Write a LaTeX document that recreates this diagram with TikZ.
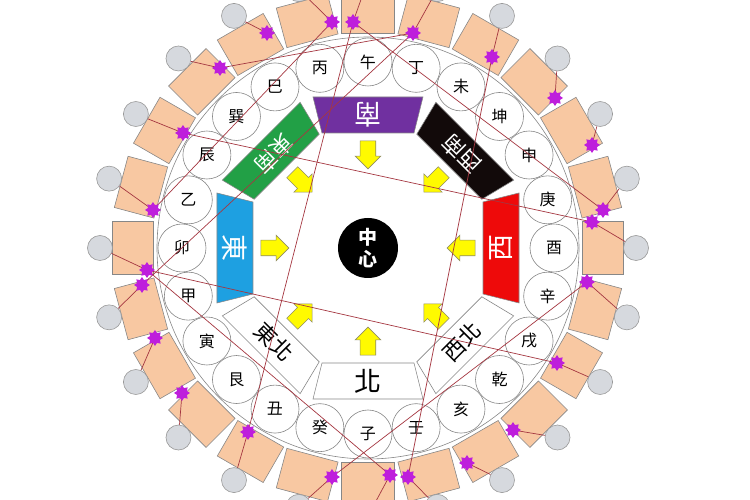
\documentclass[tikz,border=0pt]{standalone}
\usepackage{fontspec}
\newfontfamily\cjk{Noto Sans CJK TC}
\usetikzlibrary{shapes.geometric,shapes.arrows}

\definecolor{boxorange}{RGB}{248,200,162}
\definecolor{ringgray}{RGB}{135,135,135}
\definecolor{dotgray}{RGB}{214,217,222}
\definecolor{starpurple}{RGB}{190,30,220}
\definecolor{linered}{RGB}{165,55,65}
\definecolor{nanpurple}{RGB}{112,48,160}
\definecolor{xinanblack}{RGB}{18,10,10}
\definecolor{xired}{RGB}{238,10,10}
\definecolor{dongblue}{RGB}{30,160,225}
\definecolor{dnangreen}{RGB}{34,160,70}
\definecolor{arrowyellow}{RGB}{255,250,0}

\tikzset{
  mountain/.style={circle, draw=ringgray, fill=white, line width=0.6pt, minimum size=48pt, inner sep=0pt, font=\cjk\fontsize{16}{16}\selectfont},
  ringbox/.style={rectangle, draw=ringgray, fill=boxorange, line width=0.6pt, minimum width=53pt, minimum height=41pt},
  graydot/.style={circle, draw=gray!80, fill=dotgray, line width=0.6pt, minimum size=25pt, inner sep=0pt},
  starmark/.style={star, star points=8, star point ratio=1.5, fill=starpurple, minimum size=16pt, inner sep=0pt},
  feiarrow/.style={single arrow, draw=gray!70!olive, fill=arrowyellow, line width=0.6pt, minimum height=28pt, inner sep=7.5pt, single arrow head extend=5pt},
  dirlabel/.style={inner sep=0pt},
  redline/.style={draw=linered, line width=0.7pt}
}

\begin{document}
\begin{tikzpicture}[x=1pt,y=1pt]
\useasboundingbox (-368,-252) rectangle (382,248);
\clip (-368,-252) rectangle (382,248);
\draw[ringgray, line width=0.6pt] (0,0) circle (211);
\foreach \i in {0,...,23}{
  \node[ringbox, rotate=15*\i-90] (b\i) at ({15*\i}:235) {};
  \node[graydot] (g\i) at ({15*\i}:268) {};
}
\foreach \lab [count=\i from 0] in {子,癸,丑,艮,寅,甲,卯,乙,辰,巽,巳,丙,午,丁,未,坤,申,庚,酉,辛,戌,乾,亥,壬}
  \node[mountain] (m\i) at ({-90-15*\i}:186) {\lab};
\foreach \a/\fc/\tc/\fs/\lab in {-90/white/black/27/北, -45/white/black/22/西北, 0/xired/white/27/西, 45/xinanblack/white/22/西南, 90/nanpurple/white/27/南, 135/dnangreen/white/22/東南, 180/dongblue/white/27/東, -135/white/black/22/東北}{
  \begin{scope}[rotate=\a+90]
    \draw[ringgray, fill=\fc, line width=0.6pt] (-46,-115) -- (46,-115) -- (55,-151) -- (-55,-151) -- cycle;
  \end{scope}
  \node[dirlabel, text=\tc, rotate=\a+90, font=\cjk\fontsize{\fs}{\fs}\selectfont] (dir\a) at (\a:133) {\lab};
  \node[feiarrow, rotate=\a+180] (arr\a) at (\a:97) {};
}
\node[circle, fill=black, minimum size=60pt, inner sep=0pt, text=white, align=center, font=\cjk\fontsize{19}{22}\selectfont\bfseries] (center) at (0,0) {中\\心};
\foreach \n/\x/\y in {1/-36/226, 2/-15/226, 3/-101/215, 4/-148/180, 5/-185/115, 6/-215/38, 7/-221/-22, 8/-226/-37, 9/-213/-90, 10/-186/-145, 11/-120/-184, 12/-36/-229, 13/22/-227, 14/40/-229, 15/99/-215, 16/145/-182, 17/189/-115, 18/219/-34, 19/224/26, 20/235/38, 21/224/103, 22/187/150, 23/124/191, 24/45/215}
  \coordinate (sp\n) at (\x,\y);
\foreach \n/\g in {1/7, 2/6, 3/8, 4/9, 5/10, 6/11, 7/12, 8/13, 9/14, 10/15, 11/16, 12/17, 13/18, 14/19, 15/20, 16/21, 17/22, 18/23, 19/0, 20/1, 21/2, 22/3, 23/4, 24/5}
  \draw[redline] (sp\n) -- (g\g);
\foreach \p/\q in {2/11, 7/17, 5/19, 23/14, 6/1, 18/12, 24/8, 4/24, 2/20, 7/13}
  \draw[redline] (sp\p) -- (sp\q);
\foreach \n in {1,...,24}
  \node[starmark] (st\n) at (sp\n) {};
\end{tikzpicture}
\end{document}
